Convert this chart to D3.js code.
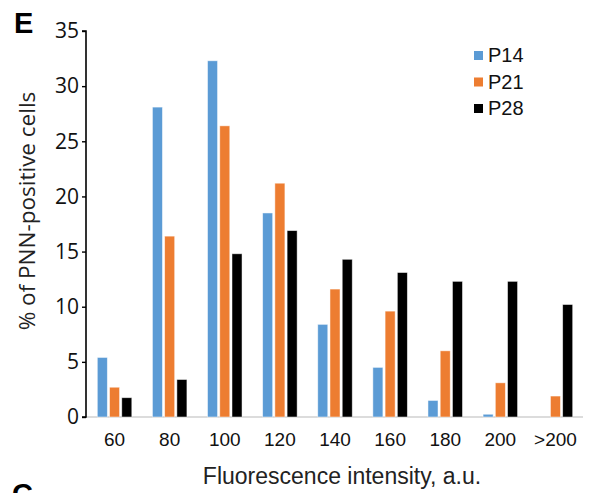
<!DOCTYPE html>
<html>
<head>
<meta charset="utf-8">
<script src="https://cdn.jsdelivr.net/npm/d3@7"></script>
<style>
  body { margin: 0; background: #fff; }
  svg { display: block; }
  .ytick text, .ytitle { font-family: "Open Sans", sans-serif; }
  .xtick text, .xtitle, .legend text { font-family: "Liberation Sans", Arial, sans-serif; }
</style>
</head>
<body>
<svg id="chart" width="589" height="493"></svg>
<script>
// bins along the x axis
var categories = ["60", "80", "100", "120", "140", "160", "180", "200", ">200"];
var series = ["P14", "P21", "P28"];
var colors = ["#5B9BD5", "#ED7D31", "#000000"];
// % of PNN-positive cells
var p14 = [5.4, 28.1, 32.3, 18.5, 8.4, 4.5, 1.5, 0.25, 0];
var p21 = [2.7, 16.4, 26.4, 21.2, 11.6, 9.6, 6.0, 3.1, 1.9];
var p28 = [1.75, 3.4, 14.8, 16.9, 14.3, 13.1, 12.3, 12.3, 10.2];
var yTicks = [0, 5, 10, 15, 20, 25, 30, 35];

var svg = d3.select("#chart");
var plotLeft = 86, plotRight = 583, plotTop = 31, plotBottom = 417;

var x0 = d3.scaleBand()
  .domain(categories)
  .range([plotLeft + 1, plotRight])
  .paddingInner(0.374)
  .paddingOuter(0.187);

var x1 = d3.scaleBand()
  .domain(series)
  .range([0, x0.bandwidth()])
  .paddingInner(0.18)
  .paddingOuter(0);

var y = d3.scaleLinear()
  .domain([0, 35])
  .range([plotBottom, plotTop]);

var data = categories.map(function(c, i) {
  return { cat: c, vals: [p14[i], p21[i], p28[i]] };
});

// baseline
svg.append("line")
  .attr("x1", plotLeft).attr("x2", plotRight)
  .attr("y1", y(0)).attr("y2", y(0))
  .attr("stroke", "#d0d0d0")
  .attr("stroke-width", 1.5);

// bars
var groups = svg.append("g").selectAll("g")
  .data(data)
  .enter().append("g")
  .attr("transform", function(d) { return "translate(" + x0(d.cat) + ",0)"; });

groups.selectAll("rect")
  .data(function(d) { return d.vals.map(function(v, j) { return { s: series[j], v: v, c: colors[j] }; }); })
  .enter().append("rect")
  .filter(function(d) { return d.v > 0; })
  .attr("x", function(d) { return x1(d.s); })
  .attr("width", x1.bandwidth())
  .attr("y", function(d) { return y(d.v); })
  .attr("height", function(d) { return y(0) - y(d.v); })
  .attr("fill", function(d) { return d.c; })
  .attr("stroke", "#ffffff")
  .attr("stroke-opacity", 0.6)
  .attr("stroke-width", 0.8);

// y axis
var yAxis = svg.append("g")
  .attr("class", "ytick")
  .attr("transform", "translate(" + plotLeft + ",0)")
  .call(d3.axisLeft(y).tickValues(yTicks).tickSize(4).tickPadding(3));
yAxis.select(".domain").attr("stroke", "#000").attr("stroke-width", 1.6)
  .attr("d", "M-4," + y(35) + "H0V" + y(0) + "H-4");
yAxis.selectAll(".tick line").attr("stroke", "#000").attr("stroke-width", 1.4);
yAxis.selectAll("text").attr("font-size", "21px").attr("fill", "#111");

// x labels
var xAxis = svg.append("g")
  .attr("class", "xtick")
  .attr("transform", "translate(0," + y(0) + ")")
  .call(d3.axisBottom(x0).tickSize(0).tickPadding(16));
xAxis.select(".domain").remove();
xAxis.selectAll("text").attr("font-size", "19px").attr("fill", "#111");

// titles
svg.append("text")
  .attr("class", "xtitle")
  .attr("x", 342).attr("y", 484)
  .attr("text-anchor", "middle")
  .attr("font-size", "23px")
  .attr("fill", "#222")
  .text("Fluorescence intensity, a.u.");

svg.append("text")
  .attr("class", "ytitle")
  .attr("transform", "translate(35,211) rotate(-90)")
  .attr("text-anchor", "middle")
  .attr("font-size", "22.5px")
  .attr("fill", "#222")
  .text("% of PNN-positive cells");

// legend
var legend = svg.append("g").attr("class", "legend")
  .selectAll("g").data(series).enter().append("g")
  .attr("transform", function(d, i) { return "translate(474," + (51 + i * 26.5) + ")"; });
legend.append("rect")
  .attr("width", 9).attr("height", 9)
  .attr("fill", function(d, i) { return colors[i]; });
legend.append("text")
  .attr("x", 14).attr("y", 11)
  .attr("font-size", "20px")
  .attr("fill", "#111")
  .text(function(d) { return d; });

// panel letters
svg.append("text")
  .attr("x", 14).attr("y", 33)
  .attr("font-family", "Liberation Sans, Arial, sans-serif")
  .attr("font-weight", "bold")
  .attr("font-size", "29px")
  .text("E");
svg.append("text")
  .attr("x", 12).attr("y", 504)
  .attr("font-family", "Liberation Sans, Arial, sans-serif")
  .attr("font-weight", "bold")
  .attr("font-size", "29px")
  .text("C");
</script>
</body>
</html>
